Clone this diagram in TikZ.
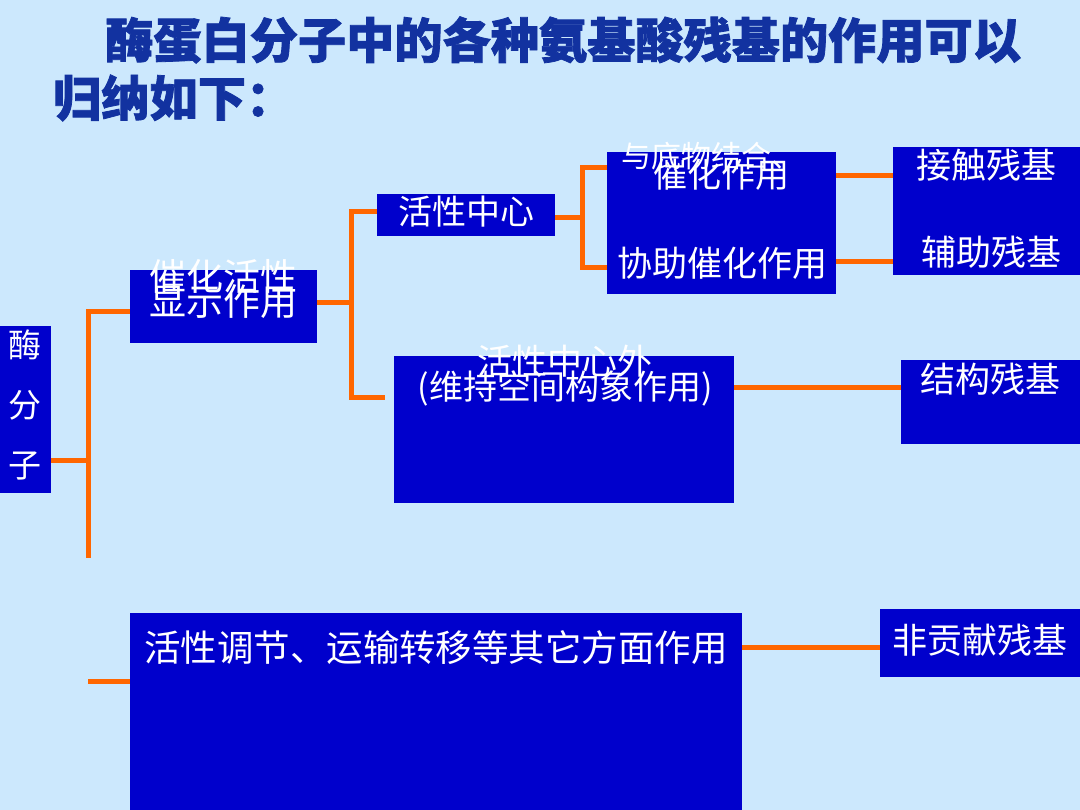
\documentclass[tikz,border=0pt]{standalone}
\usepackage{fontspec}
\newfontfamily\cjk{Noto Sans CJK SC}
\newfontfamily\cjkt[BoldFeatures={FakeBold=1.6}]{Noto Sans CJK SC}
\definecolor{bg}{RGB}{204,232,253}
\definecolor{boxblue}{RGB}{0,0,204}
\definecolor{lineor}{RGB}{255,102,0}
\definecolor{titleblue}{RGB}{18,50,160}
\begin{document}
\begin{tikzpicture}[x=1pt,y=-1pt,
  blk/.style={fill=boxblue, draw=none, inner sep=0pt, rectangle},
  lbl/.style={text=white, inner sep=0pt, font=\cjk\fontsize{#1}{#1}\selectfont},
  ttl/.style={text=titleblue, inner sep=0pt, font=\cjkt\bfseries\fontsize{48.2}{48.2}\selectfont},
  conn/.style={draw=lineor, line width=5pt, line join=miter},
]
\fill[bg] (0,0) rectangle (1080,810);
\useasboundingbox (0,0) rectangle (1080,810);

% title
\node[ttl, anchor=west] (t1) at (105,40) {酶蛋白分子中的各种氨基酸残基的作用可以};
\node[ttl, anchor=west] (t2) at (53,98) {归纳如下：};

% boxes
\node[blk, minimum width=51pt, minimum height=167pt] (mol) at (25.5,409.5) {};
\node[blk, minimum width=187pt, minimum height=73pt] (cat) at (223.5,306.5) {};
\node[blk, minimum width=178pt, minimum height=42pt] (ac) at (466,215) {};
\node[blk, minimum width=229pt, minimum height=142pt] (sub) at (721.5,223) {};
\node[blk, minimum width=187pt, minimum height=128pt] (res1) at (986.5,211) {};
\node[blk, minimum width=340pt, minimum height=147pt] (out) at (564,429.5) {};
\node[blk, minimum width=179pt, minimum height=84pt] (res2) at (990.5,402) {};
\node[blk, minimum width=612pt, minimum height=197pt] (other) at (436,711.5) {};
\node[blk, minimum width=200pt, minimum height=68pt] (res3) at (980,643) {};

% labels
\node[lbl=33, align=center, font=\cjk\fontsize{33}{60}\selectfont] (molt) at (25,405) {酶\\分\\子};
\node[lbl=37] (catt1) at (223,276) {催化活性};
\node[lbl=37] (catt2) at (223,302) {显示作用};
\node[lbl=34] (act) at (466,212) {活性中心};
\node[lbl=30] (subt1) at (711,156) {与底物结合、};
\node[lbl=34] (subt2) at (721,175) {催化作用};
\node[lbl=35] (subt3) at (722,263) {协助催化作用};
\node[lbl=35] (r1a) at (986,165) {接触残基};
\node[lbl=35] (r1b) at (991,252) {辅助残基};
\node[lbl=35] (outt1) at (565,361) {活性中心外};
\node[lbl=34] (outt2) at (565,388) {(维持空间构象作用)};
\node[lbl=35] (r2t) at (990,379) {结构残基};
\node[lbl=36.5] (othert) at (436,648) {活性调节、运输转移等其它方面作用};
\node[lbl=35] (r3t) at (980,640) {非贡献残基};

% connector coordinates
\coordinate (j1t) at (88,312);
\coordinate (j1m) at (88,461);
\coordinate (j1b) at (88,558);
\coordinate (j1x) at (88,681);
\coordinate (j2t) at (351,212);
\coordinate (j2m) at (351,303);
\coordinate (j2b) at (351,398);
\coordinate (j2e) at (385,398);
\coordinate (j3t) at (582,168);
\coordinate (j3m) at (582,218);
\coordinate (j3b) at (582,268);

% connectors
\draw[conn] (mol.east |- j1m) -- (j1m);
\draw[conn] (cat.west |- j1t) -- (j1t) -- (j1b);
\draw[conn] (j1x) -- (other.west |- j1x);
\draw[conn] (cat.east |- j2m) -- (j2m);
\draw[conn] (ac.west |- j2t) -- (j2t) -- (j2b) -- (j2e);
\draw[conn] (ac.east |- j3m) -- (j3m);
\draw[conn] (sub.west |- j3t) -- (j3t) -- (j3b) -- (sub.west |- j3b);
\draw[conn] (sub.east |- 0,176) -- (res1.west |- 0,176);
\draw[conn] (sub.east |- 0,262) -- (res1.west |- 0,262);
\draw[conn] (out.east |- 0,388) -- (res2.west |- 0,388);
\draw[conn] (other.east |- 0,647) -- (res3.west |- 0,647);
\end{tikzpicture}
\end{document}
